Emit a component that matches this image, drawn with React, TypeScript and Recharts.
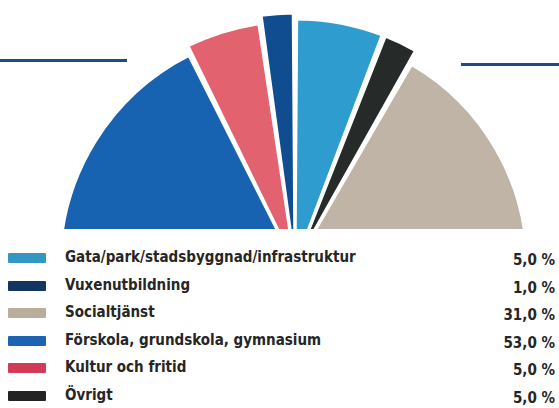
import React from 'react';
import { PieChart, Pie, Cell } from 'recharts';

// Legend (as printed)
const categories = [
  'Gata/park/stadsbyggnad/infrastruktur',
  'Vuxenutbildning',
  'Socialtjänst',
  'Förskola, grundskola, gymnasium',
  'Kultur och fritid',
  'Övrigt',
];
const shareValues = [5.0, 1.0, 31.0, 53.0, 5.0, 5.0];
const shareLabels = ['5,0 %', '1,0 %', '31,0 %', '53,0 %', '5,0 %', '5,0 %'];

// Pie slices from left to right, with the arc weights
const pieCategories = [
  'Förskola, grundskola, gymnasium',
  'Kultur och fritid',
  'Vuxenutbildning',
  'Gata/park/stadsbyggnad/infrastruktur',
  'Övrigt',
  'Socialtjänst',
];
const pieArcWeights = [64.6, 17.9, 7.5, 20.8, 8.0, 61.2];

// Styles
const legendColors: Record<string, string> = {
  'Gata/park/stadsbyggnad/infrastruktur': '#3596c3',
  'Vuxenutbildning': '#12365f',
  'Socialtjänst': '#b9ad9b',
  'Förskola, grundskola, gymnasium': '#1c63b2',
  'Kultur och fritid': '#d23a57',
  'Övrigt': '#232323',
};
const sliceColors: Record<string, string> = {
  'Förskola, grundskola, gymnasium': '#1863b1',
  'Kultur och fritid': '#e2636f',
  'Vuxenutbildning': '#0f4d90',
  'Gata/park/stadsbyggnad/infrastruktur': '#2e9ccf',
  'Övrigt': '#262b29',
  'Socialtjänst': '#bfb4a5',
};
const sliceRadius: Record<string, number> = {
  'Förskola, grundskola, gymnasium': 235,
  'Kultur och fritid': 244,
  'Vuxenutbildning': 252,
  'Gata/park/stadsbyggnad/infrastruktur': 246,
  'Övrigt': 246,
  'Socialtjänst': 232,
};

const pieData = pieCategories.map((name, i) => ({ name, arc: pieArcWeights[i] }));

const FONT = '"DejaVu Sans Condensed", "DejaVu Sans", sans-serif';
const lineColor = '#1d4e7d';

export default function App() {
  return (
    <div style={{ position: 'absolute', left: 0, top: 0, width: 559, height: 408, background: '#fff', overflow: 'hidden' }}>
      <div style={{ position: 'absolute', left: 0, top: 0 }}>
        <PieChart width={559} height={229} margin={{ top: 0, right: 0, bottom: 0, left: 0 }}>
          {pieCategories.map((cat, k) => (
            <Pie
              key={cat}
              data={pieData}
              dataKey="arc"
              nameKey="name"
              cx={295}
              cy={265}
              startAngle={180}
              endAngle={0}
              innerRadius={0}
              outerRadius={sliceRadius[cat]}
              paddingAngle={0.8}
              isAnimationActive={false}
              legendType="none"
            >
              {pieData.map((d) => (
                <Cell
                  key={d.name}
                  fill={d.name === cat ? sliceColors[cat] : 'none'}
                  stroke={d.name === cat ? '#ffffff' : 'none'}
                  strokeWidth={3}
                />
              ))}
            </Pie>
          ))}
        </PieChart>
      </div>
      <div style={{ position: 'absolute', left: 0, top: 59, width: 127, height: 3, background: lineColor }} />
      <div style={{ position: 'absolute', left: 461, top: 63, width: 98, height: 3, background: lineColor }} />
      {categories.map((cat, i) => (
        <div key={cat} style={{ position: 'absolute', left: 0, top: 249 + i * 27.5, width: 559, height: 20, fontFamily: FONT, fontWeight: 'bold', fontSize: 15, color: '#262626' }}>
          <div style={{ position: 'absolute', left: 8, top: 4, width: 38, height: 10, background: legendColors[cat], borderRadius: 1 }} />
          <div style={{ position: 'absolute', left: 65, top: -1, lineHeight: '18px', whiteSpace: 'nowrap' }}>{cat}</div>
          <div style={{ position: 'absolute', right: 4, top: 2, lineHeight: '18px', whiteSpace: 'nowrap' }} title={String(shareValues[i])}>{shareLabels[i]}</div>
        </div>
      ))}
    </div>
  );
}
